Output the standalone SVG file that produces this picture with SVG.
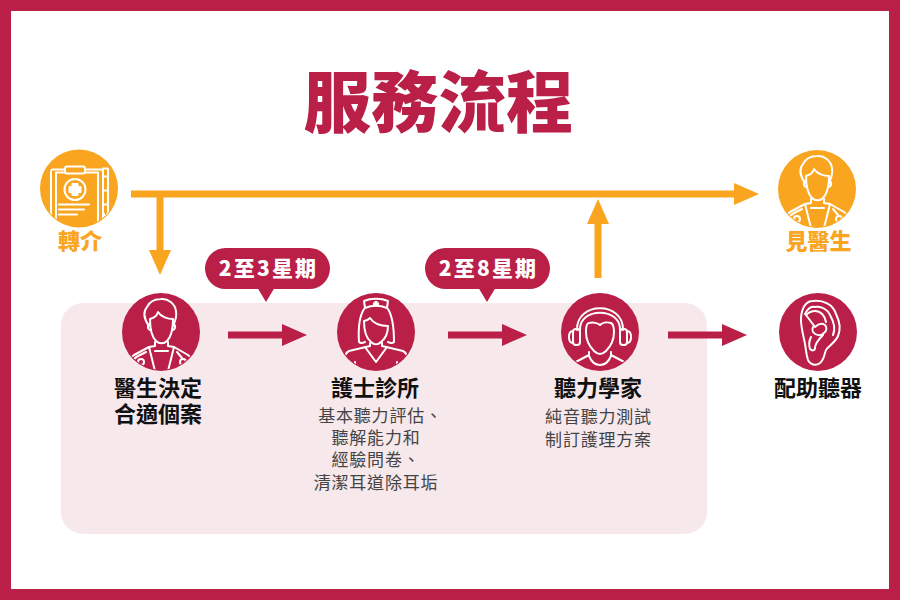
<svg xmlns="http://www.w3.org/2000/svg" width="900" height="600" viewBox="0 0 900 600">
<style>
text{font-family:"Noto Sans CJK TC","Noto Sans CJK SC",sans-serif;text-anchor:middle}
.red{fill:#b91f47}.org{fill:#f9a51f}
.t{font-size:22px;font-weight:700;fill:#111}
.o{font-size:22px;font-weight:900;fill:#f9a51f}
.d{font-size:17px;fill:#444;font-weight:400;letter-spacing:.8px}
.b{font-size:21px;font-weight:900;fill:#fff;letter-spacing:2.200px}
.lr,.lo{fill:none;stroke-width:7}
.lr{stroke:#b91f47}.lo{stroke:#f9a51f}
.ic{stroke:#fff;stroke-width:2;stroke-linejoin:round;stroke-linecap:round;fill:none;clip-path:url(#cc)}
</style>
<defs>
<clipPath id="cc"><circle cx="0" cy="0" r="38"/></clipPath>
<marker id="hr" markerUnits="userSpaceOnUse" markerWidth="26" markerHeight="22" refX="1" refY="11" orient="auto"><path d="M0 0L25 11L0 22z" fill="#b91f47"/></marker>
<marker id="ho" markerUnits="userSpaceOnUse" markerWidth="26" markerHeight="22" refX="1" refY="11" orient="auto"><path d="M0 0L25 11L0 22z" fill="#f9a51f"/></marker>
<g id="doc" class="ic">
<path d="M-12-6C-17-13-18-20-14-25C-11-31-6-33 0-33C7-34 14-28 15-21C16-15 14-10 12-6"/>
<path d="M-11-13C-11-1-9 5-5 9C-2 12 3 12 6 9C10 5 12-1 12-13C7-13 0-15-3-20C-4-16-7-14-11-13Z"/>
<path d="M-11-8C-14-8-14-2-10-2M12-8C15-8 15-2 11-2"/>
<path d="M-6 10V14L-12 15L-27 23C-31 26-33 30-34 34M7 10V14L13 15L27 23C31 26 33 30 34 34"/>
<path d="M-12 15L-6 39M13 15L7 39M-6 19H7"/>
<path d="M-15 20L-23 24C-29 27-28 31-26 33M16 20L21 26"/>
<circle cx="-20" cy="30" r="3"/><circle cx="22" cy="30" r="3"/>
</g>
</defs>
<rect x="5.500" y="5.500" width="889" height="589" fill="#fff" stroke="#b91f47" stroke-width="11"/>
<rect x="61" y="303" width="646" height="231" rx="22" fill="#f7e8ec"/>
<text id="title" x="438.500" y="127" font-size="67.500" style="font-weight:900" class="red">服務流程</text>
<g id="connectors">
<path class="lo" d="M131 194H735" marker-end="url(#ho)"/>
<path class="lo" d="M160 194V251" marker-end="url(#ho)"/>
<path class="lo" d="M598 278V223" marker-end="url(#ho)"/>
<path class="lr" d="M228 335H283" marker-end="url(#hr)"/>
<path class="lr" d="M448 335H503" marker-end="url(#hr)"/>
<path class="lr" d="M668 335H723" marker-end="url(#hr)"/>
</g>
<g id="bubble1"><rect x="205" y="248" width="125" height="41" rx="20.500" class="red"/><path d="M257 287H275L266 302z" class="red"/><text x="268.500" y="276" class="b">2至3星期</text></g>
<g id="bubble2"><rect x="425" y="248" width="125" height="41" rx="20.500" class="red"/><path d="M478 287H496L487 302z" class="red"/><text x="488.500" y="276" class="b">2至8星期</text></g>
<g id="referral"><circle cx="79" cy="188.500" r="39" class="org"/>
<g class="ic" transform="translate(79 188.500)">
<path d="M-14-19H-26C-28-19-28-18-28-16V40H22C24 40 24 39 24 38V-16C24-18 24-19 22-19H6"/>
<path d="M-14-16H-23V40H19V-16H6"/>
<rect x="-14" y="-22" width="20" height="7" rx="2"/>
<circle cx="-4" cy="1" r="10.500"/>
<path d="M-6.500-4.500H-1.500V-1.500H1.500V3.500H-1.500V6.500H-6.500V3.500H-9.500V-1.500H-6.500Z" fill="#fff"/>
<path d="M-20 16H10M-20 21H5M-20 26H-2"/>
<path d="M24-20H29V24L26.500 29L24 24ZM24-12H29M24 2H29M24 16H29"/>
</g>
<text x="80" y="249" class="o">轉介</text></g>
<g id="seeDoctor"><circle cx="817" cy="189" r="39" class="org"/><use href="#doc" x="817" y="189"/><text x="818.500" y="249" class="o">見醫生</text></g>
<g id="doctor"><circle cx="161" cy="332" r="39" class="red"/><use href="#doc" x="161" y="332"/><text x="158" y="396" class="t">醫生決定</text><text x="158" y="422" class="t">合適個案</text></g>
<g id="nurse"><circle cx="376" cy="332" r="39" class="red"/>
<g class="ic" transform="translate(376 332)">
<path d="M-11-24L-12-31C-5-34 5-34 12-31L11-24C4-27-4-27-11-24Z"/>
<path d="M-1.500-31H1.500V-29.500H3V-27H1.500V-25.500H-1.500V-27H-3V-29.500H-1.500Z" fill="#fff" stroke="none"/>
<path d="M-12-23C-17-15-18-5-17 10C-15 12-13 11-11 10M12-23C17-15 18-5 18 10C16 12 14 11 12 10"/>
<path d="M-12-11C-12 0-10 6-5 10C-2 13 2 13 5 10C10 6 12 0 12-6C6-6-2-8-6-14C-8-12-10-11-12-11Z"/>
<path d="M-6 11V14L-27 19C-31 21-32 26-32 30M6 11V14L27 19C31 21 32 26 32 30"/>
<path d="M-11 15L0 30L11 15"/><path d="M-21 30V38M21 30V38"/>
</g>
<text x="375" y="396" class="t">護士診所</text>
<text x="380.500" y="422" class="d">基本聽力評估、</text><text x="376" y="444" class="d">聽解能力和</text><text x="376" y="466" class="d">經驗問卷、</text><text x="376" y="489" class="d">清潔耳道除耳垢</text></g>
<g id="audiologist"><circle cx="600" cy="332" r="39" class="red"/>
<g class="ic" transform="translate(600 332)">
<path d="M-23-2C-24-31 24-31 23-2M-20-2C-21-25 21-25 20-2"/>
<path d="M-14 0C-14-6-13-9-11-9C-7-10-2-9 0-7C3-10 8-10 11-9C13-8 14-5 14 0C14 9 10 15 6 19C2 23-2 23-6 19C-10 15-14 9-14 0Z"/>
<rect x="-27" y="-3" width="7" height="16" rx="3"/><rect x="20" y="-3" width="7" height="16" rx="3"/>
<path d="M-27-1C-30-1-31 2-31 5C-31 8-30 11-27 11M27-1C30-1 31 2 31 5C31 8 30 11 27 11"/>
<path d="M-11 20V23L-28 32M11 20V23L28 32M-11 24C-6 36 6 36 11 24"/>
</g>
<text x="598" y="396" class="t">聽力學家</text><text x="598.500" y="423" class="d">純音聽力測試</text><text x="598.500" y="446" class="d">制訂護理方案</text></g>
<g id="ear"><circle cx="818" cy="332" r="39" class="red"/>
<g class="ic" transform="translate(818 332)">
<path d="M-17-12C-17-24-12-31-5-31C5-32 15-28 18-18C22-10 23-3 20 4C17 11 10 14 8 18C6 23 6 28 2 31C-2 34-8 33-10 28C-12 22-12 17-13 12C-14 6-17-4-17-12Z"/>
<path d="M-13-18C-10-24-6-26-3-25C4-26 10-22 12-17C16-10 18-4 15 3"/>
<path d="M-12-17L-3-5C0-8 4-9 7-7C9-5 9-1 6 1C3 4-2 4-5 0C-6-2-6-3-5-5"/>
<path d="M8-10C7-16 3-21-3-21C-7-21-10-19-12-17"/>
<path d="M-7 5C-9 9-9 14-8 17C-6 19-3 19-3 16C-3 13 0 8 5 3"/>
</g>
<text x="818" y="396" class="t">配助聽器</text></g>
</svg>
